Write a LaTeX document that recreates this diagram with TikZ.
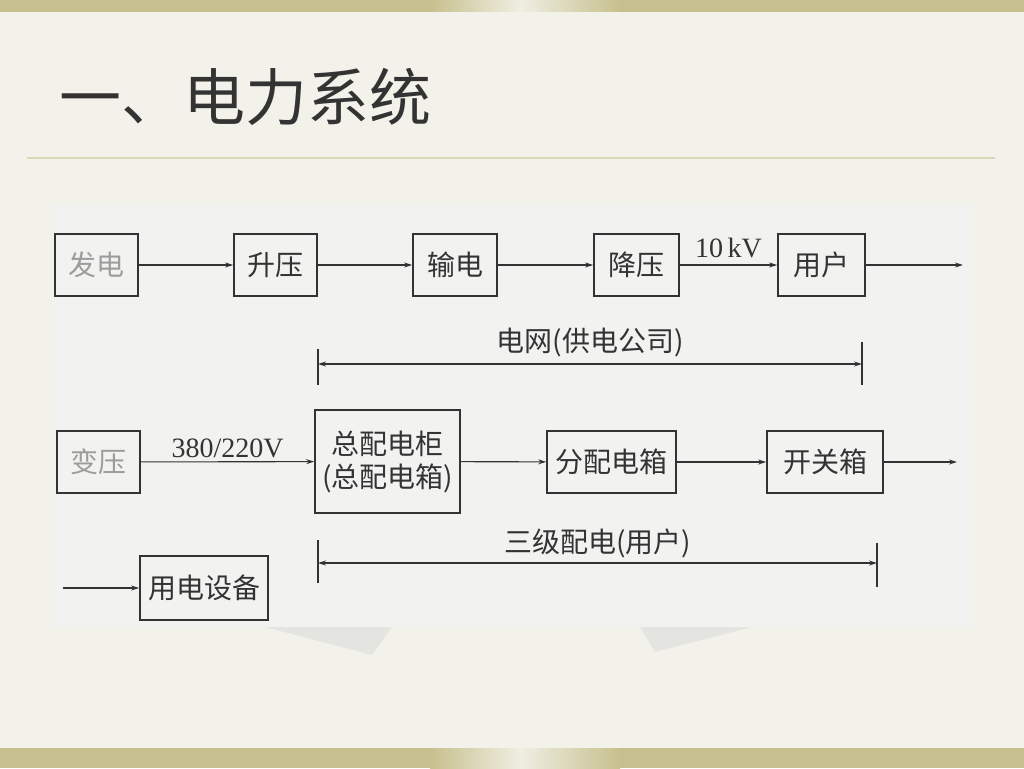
\documentclass[tikz,border=0pt]{standalone}
\usepackage{fontspec}
\newfontfamily\cjk{Noto Sans CJK SC}
\newfontfamily\numfont{Liberation Serif}
\usetikzlibrary{arrows.meta, positioning}

\definecolor{slidebg}{HTML}{F3F2EA}
\definecolor{olive}{HTML}{C7C08E}
\definecolor{olivelight}{HTML}{EFEEE2}
\definecolor{rulecol}{HTML}{D9D7BA}
\definecolor{photobg}{HTML}{F2F2F0}
\definecolor{tornbg}{HTML}{E4E4E0}
\definecolor{ink}{HTML}{333333}
\definecolor{faded}{HTML}{9C9C9C}

\begin{document}
\begin{tikzpicture}[x=1pt, y=-1pt,
    every node/.style={font=\cjk\fontsize{28}{33}\selectfont, text=ink},
    box/.style={rectangle, draw=ink, line width=1.7pt, inner sep=0pt, align=center,
                minimum height=62pt},
    arr/.style={-{Stealth[length=8pt, width=5pt]}, line width=1.1pt, draw=ink},
    span/.style={{Stealth[length=8pt, width=5pt]}-{Stealth[length=8pt, width=5pt]},
                 line width=1.1pt, draw=ink},
    tickline/.style={line width=1.1pt, draw=ink},
    volt/.style={font=\numfont\fontsize{28}{31}\selectfont}
]
\useasboundingbox (0,0) rectangle (1024,768);

% slide background
\fill[slidebg] (0,0) rectangle (1024,768);
\fill[olive] (0,0) rectangle (430,12);
\shade[left color=olive, right color=olivelight] (430,0) rectangle (520,12);
\shade[left color=olivelight, right color=olive] (520,0) rectangle (620,12);
\fill[olive] (620,0) rectangle (1024,12);
\fill[olive] (0,748) rectangle (430,768);
\shade[left color=olive, right color=olivelight] (430,748) rectangle (520,768);
\shade[left color=olivelight, right color=olive] (520,748) rectangle (620,768);
\fill[olive] (620,748) rectangle (1024,768);

\node[anchor=west, font=\cjk\fontsize{62}{68}\selectfont, text=black!80] (title) at (56,97)
    {一、电力系统};
\draw[rulecol, line width=1.5pt] (27,158) -- (995,158);

% photo of the figure
\fill[tornbg] (265,627) -- (372,655) -- (392,627) -- cycle;
\fill[tornbg] (640,627) -- (655,652) -- (752,627) -- cycle;
\fill[photobg] (52,205) rectangle (973,627);

% first row: grid
\node[box, minimum width=83pt, text=faded] (gen)  at (96.5,265)  {发电};
\node[box, minimum width=83pt]             (up)   at (275.5,265) {升压};
\node[box, minimum width=84pt]             (line) at (455,265)   {输电};
\node[box, minimum width=85pt]             (down) at (636.5,265) {降压};
\node[box, minimum width=87pt]             (user) at (821.5,265) {用户};
\coordinate (userout) at (963,265);

\draw[arr] (gen) -- (up);
\draw[arr] (up) -- (line);
\draw[arr] (line) -- (down);
\draw[arr] (down) -- node[volt, above=3pt]{10\,kV} (user);
\draw[arr] (user) -- (userout);

\coordinate (gridL) at (318,364);
\coordinate (gridR) at (862,364);
\draw[span] (gridL) -- node[above=3pt]{电网(供电公司)} (gridR);
\draw[tickline] (318,349) -- (318,385);
\draw[tickline] (862,342) -- (862,385);

% second row: site distribution
\node[box, minimum width=83pt, text=faded] (trans) at (98.5,462) {变压};
\node[box, minimum width=145pt, minimum height=103pt] (main) at (387.5,461.5)
    {总配电柜\\(总配电箱)};
\node[box, minimum width=129pt] (sub)    at (611.5,462) {分配电箱};
\node[box, minimum width=116pt] (switch) at (825,462)   {开关箱};
\coordinate (switchout) at (957,462);

\draw[arr] (trans) -- node[volt, above=0pt]{380/220V} (main);
\draw[arr] (main) -- (sub);
\draw[arr] (sub) -- (switch);
\draw[arr] (switch) -- (switchout);

\coordinate (distL) at (318,563);
\coordinate (distR) at (877,563);
\draw[span] (distL) -- node[above=1pt]{三级配电(用户)} (distR);
\draw[tickline] (318,540) -- (318,583);
\draw[tickline] (877,543) -- (877,587);

\node[box, minimum width=128pt, minimum height=64pt] (equip) at (204,588) {用电设备};
\coordinate (equipin) at (63,588);
\draw[arr] (equipin) -- (equip);
\end{tikzpicture}
\end{document}
